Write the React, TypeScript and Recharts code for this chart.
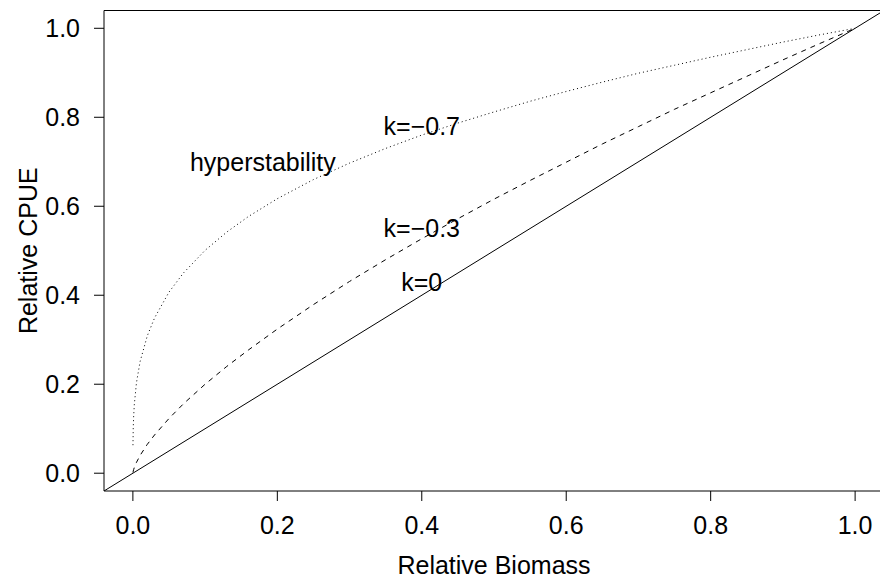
import React from "react";
import {
  LineChart,
  Line,
  XAxis,
  YAxis,
  ReferenceLine,
  ReferenceArea,
  ReferenceDot,
  Label,
} from "recharts";

// Relative biomass sample points
const biomass = [
  0.0001, 0.0005, 0.001, 0.002, 0.005, 0.01, 0.02, 0.03, 0.05, 0.07, 0.1, 0.13,
  0.16, 0.2, 0.25, 0.3, 0.35, 0.4, 0.45, 0.5, 0.55, 0.6, 0.65, 0.7, 0.75, 0.8,
  0.85, 0.9, 0.95, 1.0,
];
// Relative CPUE, k = -0.7 (dotted, hyperstability)
const cpueK07 = [
  0.063, 0.102, 0.126, 0.155, 0.204, 0.251, 0.309, 0.349, 0.407, 0.45, 0.501,
  0.542, 0.577, 0.617, 0.66, 0.697, 0.73, 0.76, 0.787, 0.812, 0.836, 0.858,
  0.879, 0.899, 0.917, 0.935, 0.952, 0.969, 0.985, 1.0,
];
// Relative CPUE, k = -0.3 (dashed)
const cpueK03 = [
  0.0016, 0.0049, 0.0079, 0.0129, 0.0245, 0.04, 0.065, 0.086, 0.123, 0.156,
  0.2, 0.24, 0.277, 0.324, 0.379, 0.431, 0.48, 0.527, 0.572, 0.616, 0.658,
  0.699, 0.74, 0.779, 0.818, 0.855, 0.892, 0.929, 0.965, 1.0,
];
// k = 0 : proportional line (abline 0,1)
const abline = [
  { x: -0.04, y: -0.04 },
  { x: 1.04, y: 1.04 },
];

const xTicks = [0, 0.2, 0.4, 0.6, 0.8, 1.0];
const yTicks = [0, 0.2, 0.4, 0.6, 0.8, 1.0];
const xDomain = [-0.04, 1.04];
const yDomain = [-0.04, 1.04];

const annotations = [
  { x: 0.18, y: 0.7, text: "hyperstability" },
  { x: 0.4, y: 0.78, text: "k=\u22120.7" },
  { x: 0.4, y: 0.55, text: "k=\u22120.3" },
  { x: 0.4, y: 0.43, text: "k=0" },
];

const rows = biomass.map((b, i) => ({ x: b, k07: cpueK07[i], k03: cpueK03[i] }));

const FONT = "'Liberation Sans', Arial, Helvetica, sans-serif";
const FS = 25;

export default function App() {
  return (
    <div
      style={{
        position: "absolute",
        left: 0,
        top: 0,
        width: 880,
        height: 580,
        overflow: "hidden",
        background: "#fff",
        fontFamily: FONT,
      }}
    >
      <LineChart
        width={885}
        height={580}
        data={rows}
        margin={{ top: 10.5, right: 1, bottom: 0, left: 0 }}
        style={{ fontFamily: FONT }}
      >
        <XAxis
          dataKey="x"
          type="number"
          domain={xDomain}
          allowDataOverflow
          ticks={xTicks}
          interval={0}
          tickFormatter={(v: number) => v.toFixed(1)}
          axisLine={false}
          tickLine={{ stroke: "#000", strokeWidth: 1 }}
          tickSize={10}
          tickMargin={15}
          height={89}
          tick={{ fill: "#000", fontSize: FS, fontFamily: FONT }}
        >
          <Label
            value="Relative Biomass"
            position="insideBottom"
            offset={6}
            style={{ fill: "#000", fontSize: FS, fontFamily: FONT }}
          />
        </XAxis>
        <YAxis
          type="number"
          domain={yDomain}
          allowDataOverflow
          ticks={yTicks}
          interval={0}
          tickFormatter={(v: number) => v.toFixed(1)}
          axisLine={false}
          tickLine={{ stroke: "#000", strokeWidth: 1 }}
          tickSize={10}
          tickMargin={14}
          width={104}
          tick={{ fill: "#000", fontSize: FS, fontFamily: FONT }}
        >
          <Label
            value="Relative CPUE"
            angle={-90}
            position="insideLeft"
            offset={28}
            style={{ fill: "#000", fontSize: FS, fontFamily: FONT, textAnchor: "middle" }}
          />
        </YAxis>
        <ReferenceArea
          x1={xDomain[0]}
          x2={xDomain[1]}
          y1={yDomain[0]}
          y2={yDomain[1]}
          fill="none"
          fillOpacity={0}
          stroke="#000"
          strokeWidth={1}
          ifOverflow="visible"
        />
        <ReferenceLine
          segment={abline}
          stroke="#000"
          strokeWidth={1}
          ifOverflow="hidden"
        />
        <Line
          dataKey="k03"
          type="linear"
          stroke="#000"
          strokeWidth={1}
          strokeDasharray="5 5"
          dot={false}
          activeDot={false}
          isAnimationActive={false}
        />
        <Line
          dataKey="k07"
          type="linear"
          stroke="#000"
          strokeWidth={1}
          strokeDasharray="1 3"
          dot={false}
          activeDot={false}
          isAnimationActive={false}
        />
        {annotations.map((a) => (
          <ReferenceDot
            key={a.text}
            x={a.x}
            y={a.y}
            r={0}
            fill="none"
            stroke="none"
            ifOverflow="visible"
          >
            <Label
              value={a.text}
              position="center"
              style={{ fill: "#000", fontSize: FS, fontFamily: FONT }}
            />
          </ReferenceDot>
        ))}
      </LineChart>
    </div>
  );
}
